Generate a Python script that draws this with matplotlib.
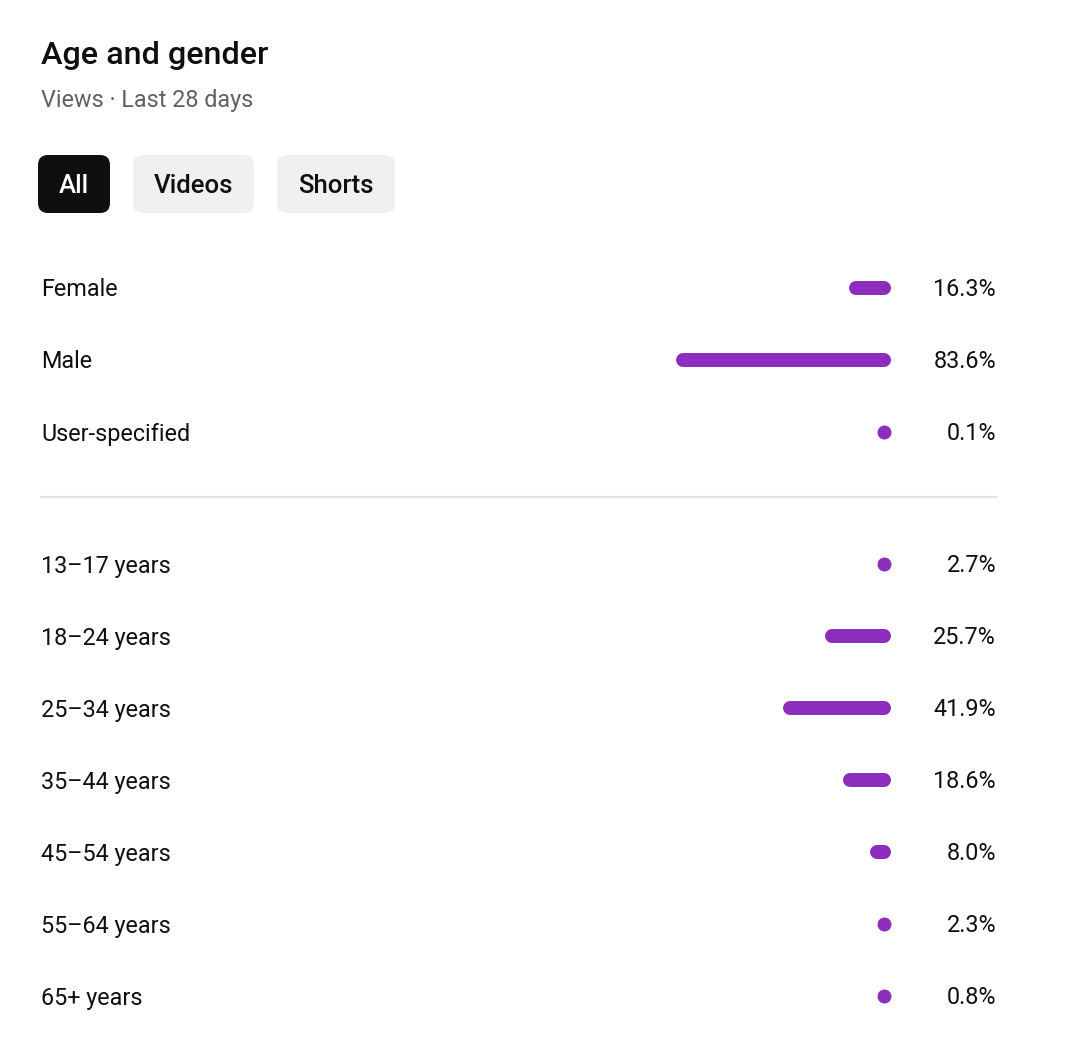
import matplotlib.pyplot as plt
from matplotlib.patches import FancyBboxPatch

# data
gender_labels = ["Female", "Male", "User-specified"]
gender_values = [16.3, 83.6, 0.1]
age_labels = ["13–17 years", "18–24 years", "25–34 years", "35–44 years",
              "45–54 years", "55–64 years", "65+ years"]
age_values = [2.7, 25.7, 41.9, 18.6, 8.0, 2.3, 0.8]
tabs = ["All", "Videos", "Shorts"]

W, H = 1080, 1041
PURPLE = "#8c2dbe"
TEXT = "#0f0f0f"
plt.rcParams['font.family'] = ['Roboto', 'DejaVu Sans']

fig = plt.figure(figsize=(W / 100, H / 100), dpi=100)
fig.patch.set_facecolor("white")

# full-figure axes in pixel units for text and layout
ax = fig.add_axes([0, 0, 1, 1])
ax.set_xlim(0, W)
ax.set_ylim(H, 0)
ax.axis("off")

# faint card outline, corners just visible at the top
card = FancyBboxPatch((-30 + 28, -30 + 28), W + 60 - 56, H + 60 - 56,
                      boxstyle="round,pad=28", fc="none", ec="#e2e2e2", lw=1)
ax.add_patch(card)

ax.text(41, 56, "Age and gender", fontsize=23.3, fontweight="medium",
        color=TEXT, va="center", ha="left")
ax.text(41, 100, "Views · Last 28 days", fontsize=16.8, color="#606060",
        va="center", ha="left")

# filter chips
chip_boxes = [(38, 110), (133, 254), (277, 395)]
for i, (name, (x0, x1)) in enumerate(zip(tabs, chip_boxes)):
    active = i == 0
    box = FancyBboxPatch((x0 + 10, 155 + 10), x1 - x0 - 20, 58 - 20,
                         boxstyle="round,pad=10",
                         fc="#0f0f0f" if active else "#f0f0f0", ec="none")
    ax.add_patch(box)
    ax.text((x0 + x1) / 2, 186, name, fontsize=18.5, fontweight="medium",
            color="white" if active else TEXT, ha="center", va="center")

# divider
ax.plot([41, 996], [497, 497], color="#e3e3e3", lw=1.5)

# bar axes: x in percent, 0 at the right end of bars
bax = fig.add_axes([634 / W, 0, 257 / W, 1])
bax.set_xlim(100, 0)
bax.set_ylim(H, 0)
bax.axis("off")
cap = 7 / 2.57  # half the bar thickness in percent units
lw_pt = 14 * 72 / 100

rows = [(gender_labels, gender_values, 288), (age_labels, age_values, 564)]
for labels, values, y0 in rows:
    for i, (lab, v) in enumerate(zip(labels, values)):
        y = y0 + 72 * i
        ax.text(41, y + 2, lab, fontsize=16.8, color=TEXT, va="center", ha="left")
        ax.text(996, y + 2, f"{v:.1f}%", fontsize=16.8, color=TEXT,
                va="center", ha="right")
        if v - 2 * cap > 0.05:
            bax.plot([cap, v - cap], [y, y], color=PURPLE, lw=lw_pt,
                     solid_capstyle="round")
        else:
            bax.plot([cap], [y], "o", color=PURPLE, ms=lw_pt, mec="none")

fig.savefig("out.png", dpi=100, facecolor="white")
